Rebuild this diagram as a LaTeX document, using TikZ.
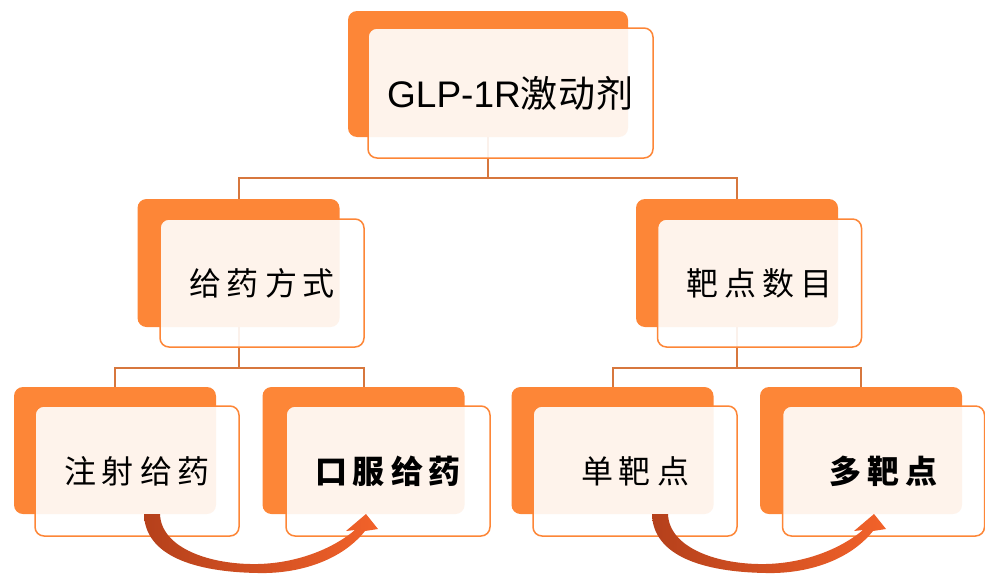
\documentclass[tikz,border=0pt]{standalone}
\usepackage{fontspec}
\setmainfont{Liberation Sans}
\newfontfamily\cjk{Noto Sans CJK SC}
\newcommand{\cjkgap}{\kern 6pt\relax}
\definecolor{orb}{HTML}{FD8637}
\definecolor{connc}{HTML}{D7773D}
\definecolor{ardark}{HTML}{B5401B}
\definecolor{arlight}{HTML}{F2622A}
\tikzset{
  backbox/.style={fill=orb, draw=none, rounded corners=9pt, inner sep=0pt,
    minimum width=202pt, minimum height=127pt},
  frontbox/.style={draw=orb, line width=1.5pt, fill=white, fill opacity=0.9,
    text opacity=1, rounded corners=9pt, inner sep=0pt,
    minimum width=204pt, minimum height=130pt,
    font=\cjk\fontsize{32}{38}\selectfont},
  conn/.style={draw=connc, line width=2pt},
  blockarrow/.style={left color=ardark, right color=arlight},
}
\begin{document}
\begin{tikzpicture}[x=1pt,y=-1pt]
\useasboundingbox (0,0) rectangle (985,573);
% back boxes
\node[backbox, minimum width=280pt, minimum height=126pt] (topB) at (488,74) {};
\node[backbox, minimum height=128pt] (lmB) at (238.5,263) {};
\node[backbox, minimum height=128pt] (rmB) at (737,263) {};
\node[backbox] (b1B) at (115,450.5) {};
\node[backbox] (b2B) at (363.5,450.5) {};
\node[backbox] (b3B) at (612.5,450.5) {};
\node[backbox] (b4B) at (861,450.5) {};
% connectors
\draw[conn] (topB.south) -- ++(0,41) coordinate (j0);
\draw[conn] (lmB.north) -- ++(0,-21) -| (rmB.north);
\draw[conn] (lmB.south) -- ++(0,41);
\draw[conn] (b1B.north) -- ++(0,-19) -| (b2B.north);
\draw[conn] (rmB.south) -- ++(0,41);
\draw[conn] (b3B.north) -- ++(0,-19) -| (b4B.north);
% front boxes
\node[frontbox, minimum width=285pt, minimum height=130pt,
  font=\fontsize{37}{43}\selectfont] (topF) at (510.5,93) {GLP-1R{\cjk 激\kern1pt 动\kern1pt 剂}};
\node[frontbox, minimum height=128pt] (lmF) at (262,283) {给\cjkgap 药\cjkgap 方\cjkgap 式};
\node[frontbox, minimum height=128pt] (rmF) at (759.5,283) {靶\cjkgap 点\cjkgap 数\cjkgap 目};
\node[frontbox] (b1F) at (137,471) {注\cjkgap 射\cjkgap 给\cjkgap 药};
\node[frontbox] (b2F) at (388,471) {\bfseries 口\cjkgap 服\cjkgap 给\cjkgap 药};
\node[frontbox] (b3F) at (635,471) {单\cjkgap 靶\cjkgap 点};
\node[frontbox, minimum width=202pt] (b4F) at (883.5,471) {\bfseries 多\cjkgap 靶\cjkgap 点};
% curved block arrows
\foreach \dx in {0,508} {
  \begin{scope}[shift={(\dx,0)}]
  \shade[blockarrow] (144,514) -- (160,514)
    .. controls (161,548) and (210,565) .. (258,564)
    .. controls (300,563) and (335,547) .. (355,530)
    -- (346,531) -- (366,514) -- (378,529) -- (365,531)
    .. controls (342,560) and (300,574) .. (258,573)
    .. controls (195,572) and (145,556) .. (144,514) -- cycle;
  \end{scope}
}
\end{tikzpicture}
\end{document}
